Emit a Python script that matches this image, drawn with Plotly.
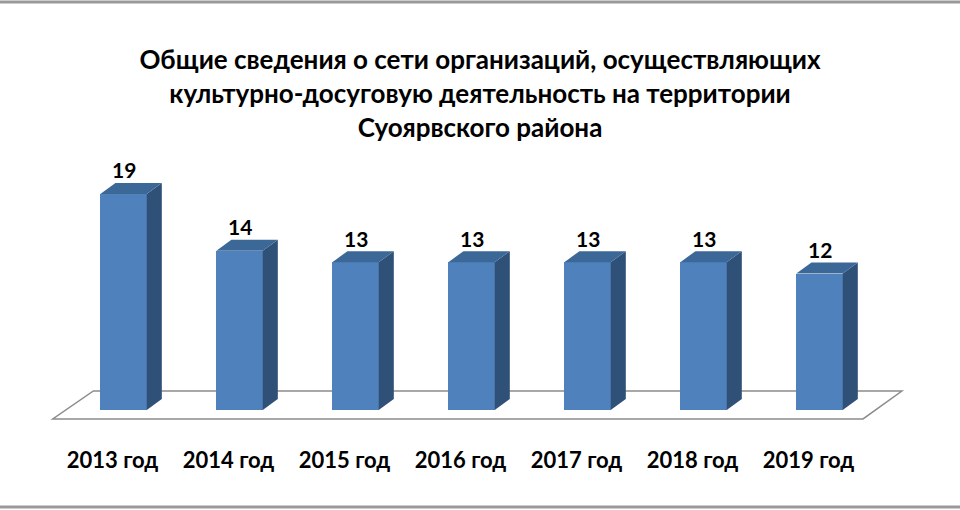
import plotly.graph_objects as go

# данные
years = ["2013 год", "2014 год", "2015 год", "2016 год", "2017 год", "2018 год", "2019 год"]
counts = [19, 14, 13, 13, 13, 13, 12]

title_lines = [
    "Общие сведения о сети организаций, осуществляющих",
    "культурно-досуговую деятельность на территории",
    "Суоярвского района",
]

FRONT = "#4F81BD"
TOP = "#3C6898"
SIDE = "#2F5077"
FONT = "Lato"

bar_w = 0.4
dx, dy = 0.13, 0.97   # смещение "глубины" псевдо-3D в единицах осей
xs = list(range(len(years)))

fig = go.Figure()

# передние грани
fig.add_trace(go.Bar(x=xs, y=counts, width=bar_w, marker=dict(color=FRONT, line=dict(width=0)),
                     hoverinfo="skip", showlegend=False))

# боковые и верхние грани
for x, v in zip(xs, counts):
    r = x + bar_w / 2
    l = x - bar_w / 2
    fig.add_trace(go.Scatter(x=[r, r + dx, r + dx, r, r], y=[0, dy, v + dy, v, 0],
                             fill="toself", fillcolor=SIDE, mode="lines", line=dict(width=0),
                             hoverinfo="skip", showlegend=False))
    fig.add_trace(go.Scatter(x=[l, r, r + dx, l + dx, l], y=[v, v, v + dy, v + dy, v],
                             fill="toself", fillcolor=TOP, mode="lines", line=dict(width=0),
                             hoverinfo="skip", showlegend=False))
    fig.add_annotation(x=x, y=v + dy, text=str(v), showarrow=False, yanchor="middle", yshift=13,
                       font=dict(family=FONT, size=21, color="#000000", weight="bold"))

# "пол" диаграммы
n = len(years)
fl, fr = -0.61, n - 1 + 0.375
bl, br = -0.26, n - 1 + 0.71
fy, by = -0.79, 1.67
fig.add_shape(type="path", xref="x", yref="y", layer="below",
              path=f"M {fl},{fy} L {fr},{fy} L {br},{by} L {bl},{by} Z",
              fillcolor="white", line=dict(color="#8c8c8c", width=1.5))

# рамка (верх и низ)
for yy in [1.5017, -0.2101]:
    fig.add_shape(type="line", xref="paper", yref="paper", x0=0, x1=1, y0=yy, y1=yy,
                  line=dict(color="#999999", width=3))

fig.update_layout(
    width=960, height=510,
    margin=dict(l=0, r=0, t=150, b=65),
    paper_bgcolor="white", plot_bgcolor="white",
    title=dict(text="<br>".join(title_lines), x=0.5, xanchor="center", y=1 - 69 / 510,
               yanchor="top", yref="container",
               font=dict(family=FONT, size=26, color="#000000", weight="bold")),
    xaxis=dict(range=[-1.065, 7.211], tickvals=xs, ticktext=years, showgrid=False, zeroline=False,
               showline=False, ticks="", ticklabelshift=-11,
               tickfont=dict(family=FONT, size=22, color="#000000", weight="bold")),
    yaxis=dict(range=[-3.08, 22.87], visible=False),
    bargap=0,
)

fig.write_html("out.html", config={"displayModeBar": False},
               post_script="document.body.style.margin='0';")
